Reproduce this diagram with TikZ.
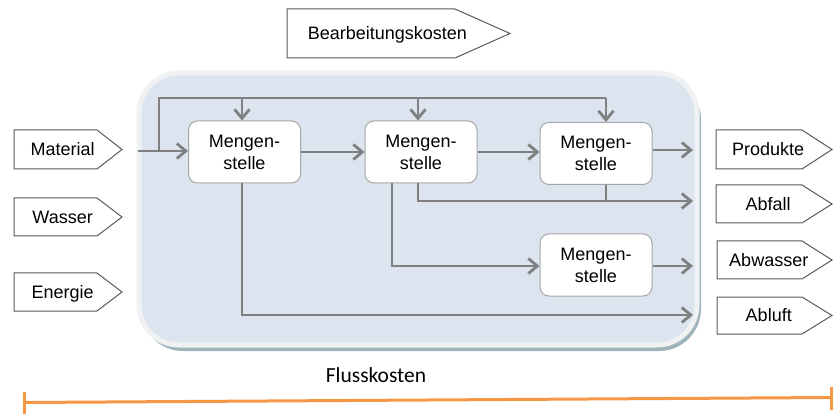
\documentclass[tikz,border=0pt]{standalone}
\usepackage{fontspec}
\setmainfont{Liberation Sans}
\newfontfamily\calfont{Carlito}
\usetikzlibrary{arrows.meta}

\definecolor{flowgray}{HTML}{808080}
\definecolor{boxgray}{HTML}{A6A6A6}
\definecolor{tagline}{HTML}{5A5A5A}
\definecolor{panelfill}{HTML}{DCE4F0}
\definecolor{panelrim}{HTML}{F0F1F3}
\definecolor{panelshadow}{HTML}{9DB4BA}
\definecolor{costorange}{HTML}{F79646}

% pentagon tag: name, left, right, tip, top, bottom, text
\newcommand\flowtag[7]{%
  \draw[tagedge] (#2,#5) -- (#3,#5) -- (#4,{(#5+#6)/2}) -- (#3,#6) -- (#2,#6) -- cycle;
  \node[tagtext] (#1) at ({#2+0.45*(#4-#2)},{(#5+#6)/2}) {#7};}

\begin{document}
\begin{tikzpicture}[x=1pt,y=-1pt,
  flow/.style={draw=flowgray, line width=2.8pt},
  flowarrow/.style={flow, -{Straight Barb[length=9pt,width=15pt]}},
  mstelle/.style={draw=boxgray, fill=white, line width=1pt, rounded corners=9pt,
    minimum width=112pt, minimum height=62pt, inner sep=0pt, align=center,
    font=\fontsize{18}{22}\selectfont},
  tagedge/.style={draw=tagline, fill=white, line width=1pt},
  tagtext/.style={inner sep=0pt, text height=12.9pt, text depth=0pt,
    font=\fontsize{18}{22}\selectfont},
  costline/.style={draw=costorange, line width=3pt}]

\useasboundingbox (0,0) rectangle (833,414);

% process panel with rim and shadow
\fill[panelshadow, rounded corners=42pt] (141,78) rectangle (701,351);
\draw[panelrim, fill=panelfill, line width=5pt, rounded corners=40pt]
  (139,73) rectangle (697,345);

% quantity centres
\node[mstelle] (m1) at (244.5,152) {Mengen-\\stelle};
\node[mstelle] (m2) at (421,152) {Mengen-\\stelle};
\node[mstelle] (m3) at (596,153.5) {Mengen-\\stelle};
\node[mstelle] (m4) at (596,265) {Mengen-\\stelle};

% input and outputs of the process
\flowtag{mat}{14}{97}{122}{130}{169}{Material}
\flowtag{was}{14}{97}{122}{198}{236}{Wasser}
\flowtag{ene}{14}{97}{122}{273}{311}{Energie}
\flowtag{bk}{287}{455}{510}{9}{58}{Bearbeitungskosten}
\flowtag{prod}{716}{802}{832}{130}{169}{Produkte}
\flowtag{abf}{716}{802}{832}{185}{223}{Abfall}
\flowtag{abw}{717}{802}{832}{241}{279}{Abwasser}
\flowtag{abl}{717}{802}{832}{297}{334}{Abluft}

% connector anchor points
\coordinate (inA) at (138,151);
\coordinate (busJ) at (159,151);
\coordinate (busL) at (159,98);
\coordinate (d1) at (242,98);
\coordinate (d2) at (418,98);
\coordinate (d3) at (606,98);
\coordinate (b2) at (392,0);
\coordinate (o1) at (693,150);
\coordinate (o2) at (693,201);
\coordinate (o3) at (693,266);
\coordinate (o4) at (693,315);

% material flows
\draw[flowarrow] (inA) -- (m1.west |- inA);
\draw[flow] (busJ) -- (busL) -- (d3);
\draw[flowarrow] (d1) -- (d1 |- m1.north);
\draw[flowarrow] (d2) -- (d2 |- m2.north);
\draw[flowarrow] (d3) -- (d3 |- m3.north);
\draw[flowarrow] (m1.east) -- (m2.west);
\draw[flowarrow] (m2.east) -- (m2.east -| m3.west);
\draw[flowarrow] (m3.east |- o1) -- (o1);
\draw[flowarrow] (d2 |- m2.south) |- (o2);
\draw[flow] (d3 |- m3.south) -- (d3 |- o2);
\draw[flowarrow] (b2 |- m2.south) |- (m4.west |- o3);
\draw[flowarrow] (m4.east |- o3) -- (o3);
\draw[flowarrow] (d1 |- m1.south) |- (o4);

% flow cost bracket
\node[font=\calfont\fontsize{21.5}{26}\selectfont, anchor=base, inner sep=0pt]
  (fk) at (376,382) {Flusskosten};
\coordinate (fl) at (25,402.5);
\coordinate (fr) at (831,397.5);
\coordinate (flt) at (24,392);
\coordinate (flb) at (24,414);
\coordinate (frt) at (831,387);
\coordinate (frb) at (831,410);
\draw[costline] (fl) -- (fr);
\draw[costline] (flt) -- (flb);
\draw[costline] (frt) -- (frb);
\end{tikzpicture}
\end{document}
